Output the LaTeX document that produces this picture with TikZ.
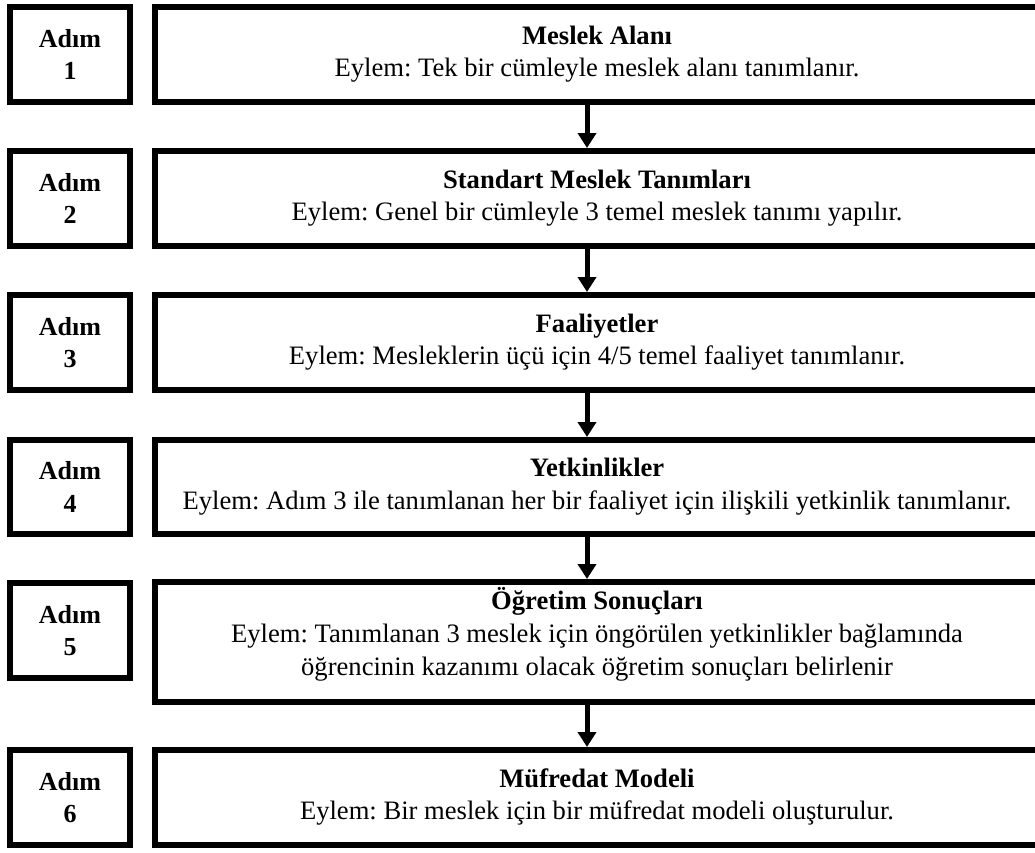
\documentclass[tikz,border=0pt]{standalone}
\usepackage{fontspec}
\setmainfont{Liberation Serif}
\usetikzlibrary{arrows.meta}
\frenchspacing
\begin{document}
\begin{tikzpicture}[x=1pt,y=-1pt,
  every node/.style={inner sep=0pt,outer sep=0pt,font=\fontsize{26.6}{32.5}\selectfont},
  adimbox/.style={draw,line width=6pt,minimum width=120pt,align=center,font=\fontsize{26}{32.5}\selectfont\bfseries},
  mainbox/.style={minimum width=866pt},
  frame/.style={line width=6pt,line join=miter},
  mtext/.style={align=center},
  flow/.style={line width=5pt,-{Triangle[width=18pt,length=15pt]}}
]
\useasboundingbox (0,0) rectangle (1035,852);
\coordinate (R) at (1045,0);

% Step boxes
\node[adimbox,minimum height=95pt] (a1) at (70,54.5) {Adım\\1};
\node[adimbox,minimum height=95pt] (a2) at (70,198.5) {Adım\\2};
\node[adimbox,minimum height=95pt] (a3) at (70,342.5) {Adım\\3};
\node[adimbox,minimum height=94pt] (a4) at (70,487) {Adım\\4};
\node[adimbox,minimum height=95pt] (a5) at (70,630.5) {Adım\\5};
\node[adimbox,minimum height=95pt] (a6) at (70,797.5) {Adım\\6};

% Main boxes
\node[mainbox,minimum height=95pt] (m1) at (588,54.5) {};
\node[mainbox,minimum height=95pt] (m2) at (588,198.5) {};
\node[mainbox,minimum height=95pt] (m3) at (588,342.5) {};
\node[mainbox,minimum height=94pt] (m4) at (588,487) {};
\node[mainbox,minimum height=120pt] (m5) at (588,642) {};
\node[mainbox,minimum height=95pt] (m6) at (588,797.5) {};

\foreach \m in {m1,m2,m3,m4,m5,m6}{
  \draw[frame] (\m.north west -| R) -- (\m.north west) -- (\m.south west) -- (\m.south west -| R);
}

% Texts
\node[mtext] (t1) at (597,54) {\textbf{Meslek Alanı}\\Eylem: Tek bir cümleyle meslek alanı tanımlanır.};
\node[mtext] (t2) at (597,198) {\textbf{Standart Meslek Tanımları}\\Eylem: Genel bir cümleyle 3 temel meslek tanımı yapılır.};
\node[mtext] (t3) at (597,342) {\textbf{Faaliyetler}\\Eylem: Mesleklerin üçü için 4/5 temel faaliyet tanımlanır.};
\node[mtext] (t4) at (597,486.5) {\textbf{Yetkinlikler}\\Eylem: Adım 3 ile tanımlanan her bir faaliyet için ilişkili yetkinlik tanımlanır.};
\node[mtext,font=\fontsize{26.6}{33}\selectfont] (t5) at (597,634) {\textbf{Öğretim Sonuçları}\\Eylem: Tanımlanan 3 meslek için öngörülen yetkinlikler bağlamında\\öğrencinin kazanımı olacak öğretim sonuçları belirlenir};
\node[mtext] (t6) at (597,797) {\textbf{Müfredat Modeli}\\Eylem: Bir meslek için bir müfredat modeli oluşturulur.};

% Arrows
\draw[flow] ([xshift=-1pt,yshift=-3pt]m1.south) -- ([xshift=-1pt,yshift=3pt]m2.north);
\draw[flow] ([xshift=-1pt,yshift=-3pt]m2.south) -- ([xshift=-1pt,yshift=3pt]m3.north);
\draw[flow] ([xshift=-1pt,yshift=-3pt]m3.south) -- ([xshift=-1pt,yshift=3pt]m4.north);
\draw[flow] ([xshift=-1pt,yshift=-3pt]m4.south) -- ([xshift=-1pt,yshift=3pt]m5.north);
\draw[flow] ([xshift=-1pt,yshift=-3pt]m5.south) -- ([xshift=-1pt,yshift=3pt]m6.north);
\end{tikzpicture}
\end{document}
